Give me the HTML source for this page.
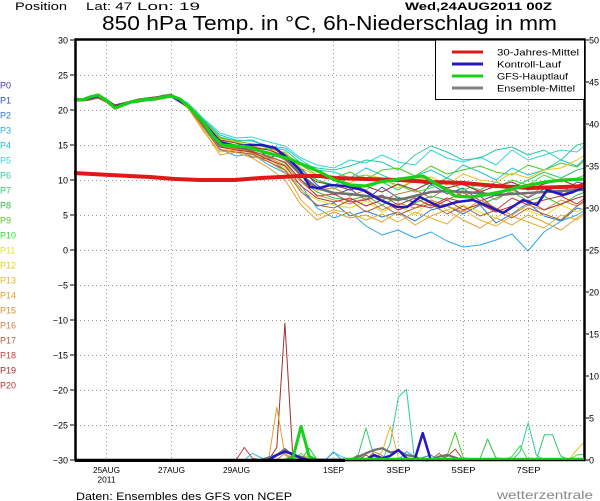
<!DOCTYPE html>
<html><head><meta charset="utf-8">
<style>
html,body{margin:0;padding:0;background:#fff;}
svg{display:block;}
text{font-family:"Liberation Sans",sans-serif;}
</style></head><body>
<svg width="600" height="501" viewBox="0 0 600 501" xmlns="http://www.w3.org/2000/svg">
<rect width="600" height="501" fill="#fff"/>
<!-- header -->
<text x="15" y="10" font-size="11" textLength="52" lengthAdjust="spacingAndGlyphs">Position</text>
<text x="86" y="10" font-size="11" textLength="46" lengthAdjust="spacingAndGlyphs">Lat: 47</text>
<text x="137" y="10" font-size="11" textLength="63" lengthAdjust="spacingAndGlyphs">Lon: 19</text>
<text x="405" y="10" font-size="11" font-weight="bold" textLength="147" lengthAdjust="spacingAndGlyphs">Wed,24AUG2011 00Z</text>
<text x="102" y="30" font-size="20" textLength="455" lengthAdjust="spacingAndGlyphs">850 hPa Temp. in °C, 6h-Niederschlag in mm</text>

<!-- grid -->
<g stroke="#999" stroke-width="1" stroke-dasharray="1,3" fill="none">
<line x1="76" y1="75.5" x2="584" y2="75.5"/>
<line x1="76" y1="110.5" x2="584" y2="110.5"/>
<line x1="76" y1="145.5" x2="584" y2="145.5"/>
<line x1="76" y1="180.5" x2="584" y2="180.5"/>
<line x1="76" y1="215.5" x2="584" y2="215.5"/>
<line x1="76" y1="250.5" x2="584" y2="250.5"/>
<line x1="76" y1="285.5" x2="584" y2="285.5"/>
<line x1="76" y1="320.5" x2="584" y2="320.5"/>
<line x1="76" y1="355.5" x2="584" y2="355.5"/>
<line x1="76" y1="390.5" x2="584" y2="390.5"/>
<line x1="76" y1="425.5" x2="584" y2="425.5"/>
<line x1="106.5" y1="41" x2="106.5" y2="459"/>
<line x1="171.5" y1="41" x2="171.5" y2="459"/>
<line x1="236.5" y1="41" x2="236.5" y2="459"/>
<line x1="333.5" y1="41" x2="333.5" y2="459"/>
<line x1="398.5" y1="41" x2="398.5" y2="459"/>
<line x1="463.5" y1="41" x2="463.5" y2="459"/>
<line x1="528.5" y1="41" x2="528.5" y2="459"/>
</g>

<!-- ensemble member temperatures -->
<g fill="none" stroke-width="1" stroke-linejoin="round">
<polyline stroke="#3050c8" points="74,99 82,100 90,98 98,96 106,100 115,107 123,104 131,102 139,101 147,100 155,99 163,97 171,95 188,105 204,126 220,141 236,150 252,145 269,158 285,152 301,168 317,185 334,195 350,189 366,200 382,187 398,198 415,202 431,184 447,194 463,188 480,201 496,195 512,188 528,198 544,189 561,193 577,182 585,184"/>
<polyline stroke="#2878d8" points="74,100 82,101 90,100 98,98 106,102 115,109 123,106 131,103 139,102 147,100 155,98 163,96 171,96 188,107 204,127 220,147 236,149 252,157 269,159 285,170 301,189 317,206 334,203 350,216 366,211 382,217 398,212 415,221 431,210 447,206 463,214 480,205 496,223 512,214 528,203 544,216 561,221 577,208 585,210"/>
<polyline stroke="#30a8e8" points="74,98 82,99 90,97 98,95 106,99 115,105 123,103 131,101 139,99 147,98 155,97 163,96 171,95 188,108 204,128 220,149 236,156 252,154 269,165 285,173 301,185 317,208 334,218 350,212 366,226 382,235 398,230 415,238 431,232 447,241 463,247 480,245 496,240 512,234 528,251 544,232 561,221 577,215 585,210"/>
<polyline stroke="#20c8d0" points="74,99 82,100 90,98 98,96 106,100 115,107 123,104 131,102 139,101 147,100 155,99 163,97 171,94 188,104 204,120 220,135 236,140 252,141 269,146 285,148 301,160 317,170 334,172 350,178 366,168 382,175 398,182 415,176 431,170 447,178 463,165 480,172 496,180 512,168 528,175 544,170 561,160 577,166 585,158"/>
<polyline stroke="#30d8d8" points="74,98 82,99 90,97 98,95 106,99 115,105 123,103 131,101 139,99 147,98 155,97 163,96 171,94 188,103 204,119 220,133 236,138 252,137 269,142 285,146 301,158 317,165 334,168 350,160 366,163 382,155 398,162 415,165 431,150 447,158 463,162 480,157 496,165 512,150 528,160 544,155 561,150 577,152 585,145"/>
<polyline stroke="#30c8a0" points="74,99 82,100 90,98 98,96 106,100 115,107 123,104 131,102 139,101 147,100 155,99 163,97 171,95 188,104 204,121 220,137 236,141 252,140 269,147 285,150 301,163 317,168 334,170 350,166 366,160 382,162 398,170 415,155 431,146 447,152 463,160 480,158 496,150 512,147 528,155 544,150 561,160 577,145 585,143"/>
<polyline stroke="#30c870" points="74,100 82,101 90,100 98,98 106,102 115,109 123,106 131,103 139,102 147,100 155,98 163,96 171,95 188,105 204,122 220,140 236,143 252,150 269,148 285,160 301,170 317,180 334,185 350,178 366,175 382,182 398,190 415,180 431,186 447,178 463,185 480,190 496,182 512,188 528,180 544,172 561,178 577,170 585,168"/>
<polyline stroke="#30c040" points="74,99 82,100 90,98 98,96 106,100 115,107 123,104 131,102 139,101 147,100 155,99 163,97 171,95 188,106 204,125 220,144 236,146 252,152 269,156 285,163 301,180 317,192 334,198 350,200 366,196 382,205 398,197 415,203 431,196 447,200 463,192 480,205 496,198 512,192 528,201 544,196 561,205 577,195 585,192"/>
<polyline stroke="#50c820" points="74,98 82,99 90,97 98,95 106,99 115,105 123,103 131,101 139,99 147,98 155,97 163,96 171,94 188,104 204,121 220,138 236,141 252,144 269,148 285,154 301,165 317,175 334,178 350,172 366,180 382,170 398,168 415,176 431,166 447,174 463,170 480,166 496,172 512,175 528,165 544,170 561,163 577,167 585,160"/>
<polyline stroke="#40e040" points="74,99 82,100 90,98 98,96 106,100 115,107 123,104 131,102 139,101 147,100 155,99 163,97 171,95 188,105 204,123 220,141 236,146 252,148 269,150 285,157 301,172 317,180 334,188 350,185 366,190 382,180 398,185 415,192 431,188 447,182 463,190 480,184 496,188 512,180 528,185 544,175 561,182 577,178 585,175"/>
<polyline stroke="#e8e020" points="74,100 82,101 90,100 98,98 106,102 115,109 123,106 131,103 139,102 147,100 155,98 163,96 171,96 188,107 204,130 220,150 236,148 252,153 269,160 285,168 301,190 317,200 334,205 350,208 366,201 382,212 398,205 415,215 431,200 447,210 463,205 480,212 496,218 512,206 528,211 544,216 561,205 577,212 585,208"/>
<polyline stroke="#e8c820" points="74,98 82,99 90,97 98,95 106,99 115,105 123,103 131,101 139,99 147,98 155,97 163,96 171,94 188,104 204,122 220,139 236,142 252,146 269,150 285,152 301,168 317,176 334,180 350,183 366,175 382,178 398,188 415,180 431,177 447,185 463,174 480,180 496,182 512,173 528,178 544,170 561,168 577,160 585,155"/>
<polyline stroke="#e8b030" points="74,100 82,101 90,100 98,98 106,102 115,109 123,106 131,103 139,102 147,100 155,98 163,96 171,96 188,108 204,132 220,152 236,150 252,156 269,162 285,172 301,200 317,215 334,210 350,213 366,220 382,214 398,222 415,212 431,218 447,224 463,210 480,220 496,226 512,216 528,222 544,228 561,215 577,220 585,214"/>
<polyline stroke="#e0a030" points="74,99 82,100 90,98 98,96 106,100 115,107 123,104 131,102 139,101 147,100 155,99 163,97 171,96 188,108 204,131 220,155 236,152 252,158 269,168 285,180 301,205 317,220 334,212 350,218 366,215 382,222 398,212 415,225 431,216 447,210 463,220 480,228 496,218 512,225 528,215 544,222 561,230 577,218 585,212"/>
<polyline stroke="#d89030" points="74,99 82,100 90,98 98,96 106,100 115,107 123,104 131,102 139,101 147,100 155,99 163,97 171,95 188,107 204,126 220,146 236,149 252,153 269,158 285,165 301,182 317,195 334,200 350,204 366,198 382,210 398,203 415,208 431,200 447,206 463,212 480,200 496,208 512,215 528,205 544,210 561,200 577,206 585,202"/>
<polyline stroke="#c88040" points="74,98 82,99 90,97 98,95 106,99 115,105 123,103 131,101 139,99 147,98 155,97 163,96 171,95 188,106 204,124 220,142 236,145 252,150 269,152 285,160 301,176 317,190 334,188 350,196 366,190 382,200 398,194 415,190 431,198 447,188 463,196 480,190 496,200 512,190 528,197 544,186 561,195 577,188 585,185"/>
<polyline stroke="#b06040" points="74,100 82,101 90,100 98,98 106,102 115,109 123,106 131,103 139,102 147,100 155,98 163,96 171,96 188,107 204,128 220,150 236,152 252,154 269,162 285,170 301,192 317,205 334,208 350,200 366,212 382,205 398,215 415,208 431,204 447,214 463,206 480,216 496,210 512,218 528,208 544,214 561,220 577,206 585,200"/>
<polyline stroke="#c04040" points="74,99 82,100 90,98 98,96 106,100 115,107 123,104 131,102 139,101 147,100 155,99 163,97 171,95 188,106 204,125 220,145 236,148 252,151 269,157 285,162 301,180 317,196 334,194 350,202 366,200 382,195 398,205 415,198 431,206 447,198 463,202 480,196 496,210 512,198 528,205 544,200 561,196 577,204 585,198"/>
<polyline stroke="#a03030" points="74,98 82,99 90,97 98,95 106,99 115,105 123,103 131,101 139,99 147,98 155,97 163,96 171,95 188,105 204,123 220,140 236,143 252,147 269,150 285,156 301,172 317,182 334,185 350,190 366,186 382,192 398,184 415,190 431,182 447,188 463,184 480,192 496,186 512,182 528,190 544,184 561,180 577,186 585,182"/>
<polyline stroke="#c03030" points="74,99 82,100 90,98 98,96 106,100 115,107 123,104 131,102 139,101 147,100 155,99 163,97 171,96 188,106 204,126 220,147 236,150 252,152 269,160 285,166 301,186 317,198 334,202 350,198 366,206 382,200 398,210 415,204 431,208 447,200 463,210 480,204 496,212 512,206 528,200 544,210 561,204 577,198 585,196"/>
</g>

<!-- member precipitation spikes -->
<g fill="none" stroke-width="1" stroke-linejoin="round">
<polyline stroke="#a03030" points="268.6,460 276.8,447.4 284.9,323.1 293,460"/>
<polyline stroke="#e0a030" points="268.6,460 276.8,407.1 284.9,455 293,460"/>
<polyline stroke="#c04040" points="236.2,460 244.3,447.4 252.4,458.3 260.5,460"/>
<polyline stroke="#c04040" points="439,460 447.1,456.6 455.2,449.1 463.3,460"/>
<polyline stroke="#c04040" points="349.7,460 357.9,455 366,460"/>
<polyline stroke="#20c8d0" points="244.3,460 252.4,453.3 260.5,457.5 268.6,460"/>
<polyline stroke="#30d8d8" points="325.4,460 333.5,452.4 341.6,456.6 349.7,460"/>
<polyline stroke="#30c8a0" points="512,460 520.1,451.6 528.2,423 536.3,455 544.4,460"/>
<polyline stroke="#30c8a0" points="382.2,460 390.3,443.2 398.4,397 406.5,389.4 414.6,460"/>
<polyline stroke="#30c870" points="349.7,460 357.9,455.8 366,428.1 374.1,456.6 382.2,460"/>
<polyline stroke="#30c870" points="536.3,460 544.4,434.8 552.5,434.8 560.6,455.8 568.7,460"/>
<polyline stroke="#30c040" points="479.5,460 487.6,439 495.7,457.5 503.8,460"/>
<polyline stroke="#30c040" points="301.1,460 309.2,448.2 317.3,460"/>
<polyline stroke="#50c820" points="439,460 447.1,455.8 455.2,432.3 463.3,457.5 471.4,460"/>
<polyline stroke="#40e040" points="503.8,460 512,456.6 520.1,445.7 528.2,460"/>
<polyline stroke="#40e040" points="293,460 301.1,453.3 309.2,460"/>
<polyline stroke="#40e040" points="568.7,460 576.8,455 584.9,454.1"/>
<polyline stroke="#e8c820" points="568.7,460 576.8,449.9 584.9,441.5"/>
<polyline stroke="#e8c820" points="284.9,460 293,451.6 301.1,460"/>
<polyline stroke="#e8b030" points="374.1,460 382.2,451.6 390.3,426.4 398.4,457.5 406.5,460"/>
<polyline stroke="#e8b030" points="301.1,460 309.2,455 317.3,460"/>
<polyline stroke="#c88040" points="276.8,460 284.9,453.3 293,460"/>
<polyline stroke="#c88040" points="366,460 374.1,451.6 382.2,455.8 390.3,460"/>
<polyline stroke="#b06040" points="284.9,460 293,455 301.1,460"/>
<polyline stroke="#b06040" points="430.8,460 439,453.3 447.1,460"/>
<polyline stroke="#30a8e8" points="398.4,460 406.5,451.6 414.6,456.6 422.7,460"/>
<polyline stroke="#30a8e8" points="325.4,460 333.5,451.6 341.6,460"/>
<polyline stroke="#2878d8" points="414.6,460 422.7,457.5 430.8,455 439,460"/>
<polyline stroke="#e8e020" points="293,460 301.1,456.6 309.2,458 317.3,460"/>
<polyline stroke="#c03030" points="357.9,460 366,455 374.1,460"/>
</g>

<!-- mean / control / gfs precip -->
<polyline fill="none" stroke="#707070" stroke-width="2.2" stroke-linejoin="round" points="252.4,460 260.5,460 268.6,457.5 276.8,455 284.9,449.1 293,455.8 301.1,456.6 309.2,460 349.7,460 357.9,457 366,453.3 374.1,449.9 382.2,448.2 390.3,452.4 398.4,450.8 406.5,455 414.6,456.6 422.7,460 430.8,460 439,456.6 447.1,455 455.2,457.5 463.3,460"/>
<polyline fill="none" stroke="#2418c0" stroke-width="2.5" stroke-linejoin="round" points="268.6,460 276.8,455 284.9,451.6 293,454 301.1,458.3 309.2,460 366,460 374.1,455 382.2,458.3 390.3,455.8 398.4,449.9 406.5,458.3 414.6,460 422.7,433.1 430.8,460"/>
<polyline fill="none" stroke="#18d018" stroke-width="3" stroke-linejoin="round" points="285,460 293,457.5 301.1,426.4 309.2,456.6 317.3,460"/>

<!-- mean temp -->
<polyline fill="none" stroke="#707070" stroke-width="2.5" stroke-linejoin="round" points="74,99 82,100 90,98 98,96 106,100 115,107 123,104 131,102 139,100 147,99 155,98 163,96 171,95 188,106 204,124 220,143 236,147 252,149 269,153 285,158 301,175 317,188 334,193 350,194 366,196 382,197 398,200 415,196 431,192 447,191 463,192 480,193 496,195 512,194 528,193 544,192 561,191 577,190 585,190"/>
<!-- control -->
<polyline fill="none" stroke="#2418c0" stroke-width="2.5" stroke-linejoin="round" points="74,100 82,100 98,96 106,100 115,107 131,102 155,99 171,96 188,106 204,123 220,142 236,146 252,145 262,145 275,148 290,160 300,170 310,187 320,188 330,185 345,186 363,190 380,200 397,207 407,207 420,197 440,207 457,202 473,200 488,206 503,213 523,200 537,205 547,190 563,195 573,192 585,187"/>
<!-- 30-year mean -->
<polyline fill="none" stroke="#e01818" stroke-width="4" stroke-linejoin="round" points="74,173 110,175 150,177 175,179 200,180 235,180 260,178 280,177 300,176 320,176 335,178 365,179 400,180 430,182 463,183 497,186 530,188 563,187 585,186"/>
<!-- GFS -->
<polyline fill="none" stroke="#18d018" stroke-width="3.2" stroke-linejoin="round" points="74,99 82,100 90,97 98,95 106,100 115,108 123,105 131,102 143,100 155,99 171,96 180,99 190,108 203,122 213,136 222,145 236,146 248,147 260,151 275,155 290,159 308,167 320,172 335,180 350,185 365,186 380,182 400,179 423,176 440,186 455,196 470,197 485,195 500,192 515,188 530,185 545,182 563,180 585,179"/>

<!-- frame -->
<rect x="75.5" y="39.5" width="509" height="420.5" fill="none" stroke="#000" stroke-width="2.5"/>
<line x1="75" y1="460.5" x2="345" y2="460.5" stroke="#000" stroke-width="3"/>
<line x1="345" y1="458.8" x2="584" y2="458.8" stroke="#18d018" stroke-width="2.2"/>

<!-- legend -->
<rect x="435.5" y="40" width="149" height="59.5" fill="#fff" stroke="#000" stroke-width="1"/>
<line x1="452" y1="52" x2="483" y2="52" stroke="#e01818" stroke-width="3"/>
<line x1="452" y1="64" x2="483" y2="64" stroke="#2418c0" stroke-width="3"/>
<line x1="452" y1="76" x2="483" y2="76" stroke="#18d018" stroke-width="3"/>
<line x1="452" y1="88" x2="483" y2="88" stroke="#808080" stroke-width="3"/>
<g font-size="9.5">
<text x="497" y="55.5" textLength="82" lengthAdjust="spacingAndGlyphs">30-Jahres-Mittel</text>
<text x="497" y="67.5" textLength="64" lengthAdjust="spacingAndGlyphs">Kontroll-Lauf</text>
<text x="497" y="79.5" textLength="71" lengthAdjust="spacingAndGlyphs">GFS-Hauptlauf</text>
<text x="497" y="91.5" textLength="78" lengthAdjust="spacingAndGlyphs">Ensemble-Mittel</text>
</g>

<!-- axis ticks -->
<g stroke="#000" stroke-width="1">
<line x1="70" y1="40" x2="74" y2="40"/><line x1="70" y1="75" x2="74" y2="75"/><line x1="70" y1="110" x2="74" y2="110"/>
<line x1="70" y1="145" x2="74" y2="145"/><line x1="70" y1="180" x2="74" y2="180"/><line x1="70" y1="215" x2="74" y2="215"/>
<line x1="70" y1="250" x2="74" y2="250"/><line x1="70" y1="285" x2="74" y2="285"/><line x1="70" y1="320" x2="74" y2="320"/>
<line x1="70" y1="355" x2="74" y2="355"/><line x1="70" y1="390" x2="74" y2="390"/><line x1="70" y1="425" x2="74" y2="425"/>
<line x1="70" y1="460" x2="74" y2="460"/>
<line x1="586" y1="40" x2="589" y2="40"/><line x1="586" y1="82" x2="589" y2="82"/><line x1="586" y1="124" x2="589" y2="124"/>
<line x1="586" y1="166" x2="589" y2="166"/><line x1="586" y1="208" x2="589" y2="208"/><line x1="586" y1="250" x2="589" y2="250"/>
<line x1="586" y1="292" x2="589" y2="292"/><line x1="586" y1="334" x2="589" y2="334"/><line x1="586" y1="376" x2="589" y2="376"/>
<line x1="586" y1="418" x2="589" y2="418"/><line x1="586" y1="460" x2="589" y2="460"/>
</g>
<g font-size="9" text-anchor="end">
<text x="68" y="43.5">30</text><text x="68" y="78.5">25</text><text x="68" y="113.5">20</text>
<text x="68" y="148.5">15</text><text x="68" y="183.5">10</text><text x="68" y="218.5">5</text>
<text x="68" y="253.5">0</text><text x="68" y="288.5">−5</text><text x="68" y="323.5">−10</text>
<text x="68" y="358.5">−15</text><text x="68" y="393.5">−20</text><text x="68" y="428.5">−25</text>
<text x="68" y="463.5">−30</text>
</g>
<g font-size="9">
<text x="589" y="43.5">50</text><text x="589" y="85.5">45</text><text x="589" y="127.5">40</text>
<text x="589" y="169.5">35</text><text x="589" y="211.5">30</text><text x="589" y="253.5">25</text>
<text x="589" y="295.5">20</text><text x="589" y="337.5">15</text><text x="589" y="379.5">10</text>
<text x="589" y="421.5">5</text><text x="589" y="463.5">0</text>
</g>

<!-- x labels -->
<g font-size="8.5" text-anchor="middle">
<text x="106.5" y="473" textLength="27" lengthAdjust="spacingAndGlyphs">25AUG</text>
<text x="106.5" y="482.5" textLength="18" lengthAdjust="spacingAndGlyphs">2011</text>
<text x="171.5" y="473" textLength="27" lengthAdjust="spacingAndGlyphs">27AUG</text>
<text x="236.5" y="473" textLength="27" lengthAdjust="spacingAndGlyphs">29AUG</text>
<text x="333.5" y="473" textLength="21" lengthAdjust="spacingAndGlyphs">1SEP</text>
<text x="398.5" y="473" textLength="24" lengthAdjust="spacingAndGlyphs">3SEP</text>
<text x="463.5" y="473" textLength="24" lengthAdjust="spacingAndGlyphs">5SEP</text>
<text x="528.5" y="473" textLength="24" lengthAdjust="spacingAndGlyphs">7SEP</text>
</g>

<!-- P labels -->
<g font-size="9">
<text x="0" y="88.5" fill="#4030c0">P0</text>
<text x="0" y="103.5" fill="#3050c8">P1</text>
<text x="0" y="118.5" fill="#2878d8">P2</text>
<text x="0" y="133.5" fill="#30a8e8">P3</text>
<text x="0" y="148.5" fill="#20c0c8">P4</text>
<text x="0" y="163.5" fill="#30d8d8">P5</text>
<text x="0" y="178.5" fill="#30c8a0">P6</text>
<text x="0" y="193.5" fill="#30c870">P7</text>
<text x="0" y="208.5" fill="#30c040">P8</text>
<text x="0" y="223.5" fill="#50c820">P9</text>
<text x="0" y="238.5" fill="#30e030">P10</text>
<text x="0" y="253.5" fill="#e8e020">P11</text>
<text x="0" y="268.5" fill="#e8c820">P12</text>
<text x="0" y="283.5" fill="#e8b030">P13</text>
<text x="0" y="298.5" fill="#e0a030">P14</text>
<text x="0" y="313.5" fill="#d89030">P15</text>
<text x="0" y="328.5" fill="#c88040">P16</text>
<text x="0" y="343.5" fill="#b06040">P17</text>
<text x="0" y="358.5" fill="#c04040">P18</text>
<text x="0" y="373.5" fill="#a03030">P19</text>
<text x="0" y="388.5" fill="#c03030">P20</text>
</g>

<!-- footer -->
<text x="76" y="500" font-size="11" textLength="216" lengthAdjust="spacingAndGlyphs">Daten: Ensembles des GFS von NCEP</text>
<text x="497" y="499" font-size="12" fill="#888" textLength="96" lengthAdjust="spacingAndGlyphs">wetterzentrale</text>
</svg>
</body></html>
